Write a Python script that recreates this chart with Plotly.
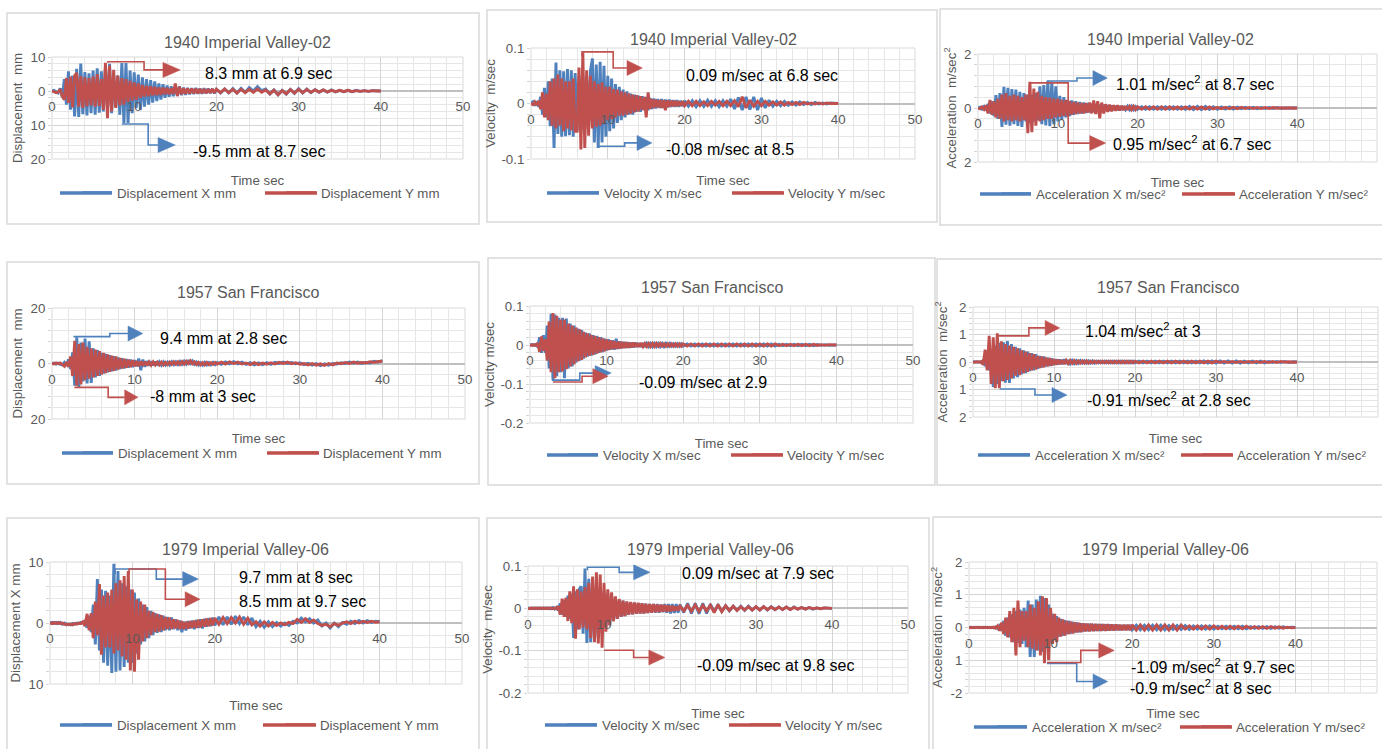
import plotly.graph_objects as go

W, H = 1382, 749
BLUE, RED = "#4F81BD", "#C0504D"
TXT = "#595959"
FONT = "Liberation Sans, Arial, sans-serif"
GRID_MAJOR, GRID_MINOR = "#d4d4d4", "#e6e6e6"

# ---------------- data ----------------
# time axis in seconds: 0-20 s every 0.25 s, 20.5-40 s every 0.5 s
time_s = [i * 0.25 for i in range(81)] + [20.5 + i * 0.5 for i in range(40)]
x_tick_vals = [0, 10, 20, 30, 40, 50]

# 1940 Imperial Valley-02
iv02_disp_x = [
    0, 0.2, -0.3, -0.6, 0.8, -1.8, 3.5, -4.0, 5.8, -5.5, 4.5, -7.5, 6.5, -7.6, 8.1, -6.8,
    5.6, -7.2, 5.2, -6.5, 6.0, -7.0, 6.7, -6.4, 5.8, -6.0, 7.0, -5.5, 8.0, -6.5, 5.0, -4.5,
    4.5, -7.0, 8.2, -9.5, 8.2, -9.4, 6.0, -6.5, 5.5, -5.0, 4.8, -5.6, 4.0, -4.6, 3.5, -4.0,
    3.2, -3.4, 2.8, -3.0, 2.2, -2.5, 2.0, -2.0, 1.6, -1.7, 1.4, -1.5, 1.2, -1.3, 1.4, -1.2,
    1.0, -1.1, 0.9, -1.0, 0.8, -0.9, 0.9, -0.8, 0.7, -0.8, 0.8, -0.7, 0.7, -0.6, 0.6, -0.7,
    0.5,
    -0.6, 0.6, -0.5, 0.7, -0.6, 0.8, -0.4, 1.0, 0.0, 1.3, 0.1,
    0.6, -0.9, 0.3, -1.1, 0.2, -0.9, 0.5, -0.7, 0.7, -0.6, 0.6, -0.5,
    0.4, -0.4, 0.3, -0.3, 0.3, -0.3, 0.2, -0.2, 0.2, -0.2, 0.2, -0.1, 0.1, -0.1, 0.1, 0.0, 0.0,
]
iv02_disp_y = [
    0, -0.2, -0.5, -0.3, 0.5, -1.5, -2.6, 3.8, -3.5, 4.2, -4.8, 4.5, 5.3, -4.6, 4.4, -5.0,
    4.0, -4.5, 3.8, -4.2, 4.2, -4.6, 5.0, -4.4, 3.5, -5.5, 8.3, -8.0, 7.5, -6.0, 6.2, -5.0,
    4.5, -4.2, 3.8, -4.0, 3.5, -3.2, 3.0, -2.8, 2.5, -2.6, 2.2, -2.0, 1.8, -1.6, 1.5, -1.5,
    1.4, -1.3, 1.2, -1.2, 1.0, -1.1, 1.0, -0.9, 0.9, -1.0, 0.8, -0.9, 2.2, -1.5, 1.2, -1.0,
    0.8, -0.8, 0.7, -0.7, 0.7, -0.6, 0.6, -0.7, 0.6, -0.6, 0.5, -0.6, 0.5, -0.5, 0.6, -0.5,
    0.5,
    -0.5, 0.6, -0.5, 0.5, -0.6, 0.5, -0.5, 0.5, -0.4, 0.6, -0.4,
    0.3, -0.8, 0.2, -1.1, 0.1, -0.8, 0.4, -0.6, 0.5, -0.5, 0.4, -0.4,
    0.3, -0.3, 0.3, -0.3, 0.2, -0.2, 0.2, -0.2, 0.2, -0.2, 0.1, -0.1, 0.1, -0.1, 0.1, 0.0, 0.0,
]
iv02_vel_x = [
    0, 0.003, -0.004, 0.004, -0.006, 0.012, -0.02, 0.028, -0.025, 0.04, -0.041, 0.045,
    -0.08, 0.074, -0.055, 0.06, -0.06, 0.058, -0.059, 0.062, -0.057, 0.06, -0.06, 0.055,
    -0.05, 0.048, -0.05, 0.05, -0.045, 0.05, -0.04, 0.06, 0.081, -0.07, 0.07, -0.08,
    0.075, -0.07, 0.068, -0.06, 0.05, -0.05, 0.045, -0.045, 0.035, -0.035, 0.03, -0.03,
    0.025, -0.025, 0.022, -0.02, 0.018, -0.02, 0.016, -0.015, 0.014, -0.015, 0.013, -0.012,
    0.012, -0.012, 0.01, -0.01, 0.009, -0.009, 0.008, -0.008, 0.008, -0.008, 0.007, -0.007,
    0.007, -0.006, 0.006, -0.006, 0.006, -0.006, 0.005, -0.005,
    0.005,
    -0.005, 0.005, -0.006, 0.005, -0.005, 0.006, -0.005, 0.005, -0.006, 0.005, -0.005,
    0.008, -0.01, 0.011, -0.012, 0.012, -0.011, 0.012, -0.012, 0.01, -0.008, 0.006,
    -0.005, 0.004, -0.004, 0.004, -0.003, 0.003, -0.003, 0.003, -0.002, 0.002, -0.002, 0.002,
    -0.001, 0.001, -0.001, 0.001, 0.0, 0.0,
]
iv02_vel_y = [
    0, -0.002, 0.003, -0.003, 0.005, -0.01, 0.02, -0.025, 0.018, -0.03, 0.04, -0.04,
    0.045, -0.045, 0.052, -0.04, 0.045, -0.05, 0.04, -0.045, 0.04, -0.048, 0.045, -0.05,
    -0.05, 0.065, -0.083, 0.092, -0.08, 0.06, -0.058, 0.05, -0.045, 0.04, -0.042, 0.035,
    -0.04, 0.038, -0.035, 0.03, -0.03, 0.03, -0.028, 0.026, -0.025, 0.025, -0.022, 0.022,
    -0.022, 0.02, -0.02, 0.018, -0.018, 0.016, -0.016, 0.015, -0.014, 0.013, -0.012, 0.012,
    -0.025, 0.02, -0.01, 0.008, -0.008, 0.007, -0.007, 0.006, -0.008, 0.006, -0.012, 0.006,
    -0.006, 0.005, -0.005, 0.005, -0.005, 0.004, -0.004, 0.004,
    -0.004,
    0.004, -0.004, 0.004, -0.004, 0.003, -0.004, 0.004, -0.003, 0.004, -0.004, 0.004, -0.004, 0.005,
    -0.006, 0.012, -0.008, 0.006,
    -0.005, 0.004, -0.004, 0.004, -0.003, 0.003, -0.003, 0.003, -0.003, 0.002, -0.002, 0.002,
    -0.002, 0.002, -0.001, 0.001, -0.001, 0.001, -0.001, 0.001, 0.0, 0.0, 0.0,
]
iv02_acc_x = [
    0, 0.03, -0.04, 0.05, -0.08, 0.15, -0.2, 0.25, -0.3, 0.48, -0.4, 0.55,
    -0.7, 0.78, -0.62, 0.75, -0.65, 0.7, -0.6, 0.68, -0.66, 0.6, -0.7, 0.55,
    -0.5, 0.5, -0.55, 0.5, -0.5, 0.55, -0.45, 0.8, -0.6, 0.85, -0.65, 1.01,
    -0.67, 0.97, -0.6, 0.8, -0.5, 0.45, -0.42, 0.4, -0.35, 0.3, -0.3, 0.28,
    -0.25, 0.25, -0.22, 0.22, -0.2, 0.2, -0.18, 0.18, -0.16, 0.15, -0.15, 0.14,
    -0.13, 0.12, -0.12, 0.12, -0.1, 0.1, -0.1, 0.09, -0.08, 0.08, -0.08, 0.07,
    -0.07, 0.07, -0.06, 0.06, -0.06, 0.06, -0.06, 0.05,
    -0.05,
    0.05, -0.05, 0.05, -0.05, 0.05, -0.05, 0.05, -0.05, 0.05, -0.05, 0.05, -0.05,
    0.06, -0.06, 0.06, -0.06, 0.06, -0.05, 0.05, -0.05, 0.04, -0.04, 0.04, -0.04,
    0.03, -0.03, 0.03, -0.03, 0.03, -0.03, 0.02, -0.02, 0.02, -0.02, 0.02, -0.02,
    0.01, -0.01, 0.01, 0.0,
]
iv02_acc_y = [
    0, -0.03, 0.04, -0.05, 0.1, -0.2, 0.3, -0.25, 0.25, -0.35, 0.35, -0.4,
    0.5, -0.5, 0.55, -0.45, 0.45, -0.5, 0.5, -0.45, 0.45, -0.5, 0.4, -0.45,
    0.5, -0.93, 0.97, -0.9, 0.72, -0.65, 0.6, -0.5, 0.45, -0.45, 0.4, -0.4,
    0.38, -0.4, 0.35, -0.35, 0.35, -0.33, 0.3, -0.3, 0.3, -0.32, 0.25, -0.25,
    0.22, -0.22, 0.2, -0.2, 0.18, -0.2, 0.18, -0.17, 0.2, -0.2, 0.28, -0.22,
    0.25, -0.38, 0.2, -0.2, 0.14, -0.14, 0.12, -0.12, 0.1, -0.1, 0.1, -0.09,
    0.08, -0.08, 0.07, -0.07, 0.06, -0.06, 0.06, -0.06,
    0.05,
    -0.05, 0.05, -0.05, 0.05, -0.05, 0.05, -0.05, 0.05, -0.04, 0.04, -0.04, 0.04,
    -0.04, 0.04, -0.04, 0.04, -0.04, 0.04, -0.03, 0.03, -0.03, 0.03, -0.03, 0.03,
    -0.03, 0.03, -0.02, 0.02, -0.02, 0.02, -0.02, 0.02, -0.02, 0.02, -0.01, 0.01,
    -0.01, 0.01, -0.01, 0.0,
]

# 1957 San Francisco
sf_disp_x = [
    0, 0.2, -0.2, 0.1, -0.3, -0.5, 0.4, -0.8, 1.5, -2.0, 4.0, -8.0, 9.4, -8.6, 7.5, -6.5,
    9.0, -7.2, 8.0, -7.0, 5.5, -5.0, 4.8, -4.5, 3.8, -3.6, 3.5, -3.2, 3.0, -2.8, 2.6, -2.5,
    2.2, -2.0, 1.9, -1.8, 1.6, -1.5, 1.4, -1.3, 1.2, -1.0, 1.8, -2.4, 1.4, -1.2, 0.9, -0.8,
    0.8, -0.7, 0.7, -0.7, 0.6, -0.6, 0.6, -0.5, 0.5, -0.5, 0.6, -0.4, 0.6, -0.4, 0.7, -0.3,
    0.8, -0.2, 1.2, 0.0, 0.9, -0.3, 0.5, -0.5, 0.3, -0.6, 0.4, -0.5, 0.3, -0.5, 0.4, -0.4,
    0.4,
    -0.3, 0.6, -0.1, 0.7, -0.1, 0.5, -0.3, 0.3, -0.5, 0.2, -0.4, 0.3, -0.3, 0.4,
    0.0, 0.5, 0.0, 0.4, -0.1, 0.3, -0.4, 0.1, -0.6, 0.0, -0.8, -0.1, -0.6, 0.0,
    -0.2, 0.3, 0.0, 0.5, 0.1, 0.5, 0.0, 0.4, 0.2, 0.8, 0.5, 1.0,
]
sf_disp_y = [
    0, -0.2, 0.2, -0.1, 0.2, -0.6, -1.0, 0.5, -1.2, 2.5, -4.5, 8.2, -8.0, 7.0, -7.5, 7.5,
    -6.0, 6.0, -5.5, 5.5, -5.0, 5.0, -4.5, 4.5, -4.0, 3.8, -3.5, 3.3, -3.0, 2.8, -2.6, 2.5,
    -2.2, 2.0, -1.8, 1.7, -1.5, 1.4, -1.3, 1.2, -1.0, 0.9, -1.0, 0.8, -0.8, 0.7, -0.7, 0.6,
    -0.6, 0.6, -0.5, 0.5, -0.5, 0.5, -0.5, 0.4, -0.4, 0.5, -0.3, 0.6, -0.3, 0.6, -0.3, 0.7,
    -0.2, 0.8, 0.0, 1.0, -0.1, 0.6, -0.4, 0.4, -0.5, 0.3, -0.5, 0.4, -0.4, 0.3, -0.3, 0.4,
    -0.2,
    0.5, -0.2, 0.6, 0.0, 0.5, -0.2, 0.2, -0.4, 0.3, -0.4, 0.2, -0.3, 0.3, -0.2,
    0.4, 0.0, 0.5, -0.1, 0.3, -0.3, 0.0, -0.5, 0.0, -0.6, -0.1, -0.7, 0.0, -0.5,
    0.2, -0.1, 0.4, 0.0, 0.5, 0.1, 0.4, 0.2, 0.6, 0.4, 0.7, 0.8,
]
sf_vel_x = [
    0, 0.001, -0.001, 0.001, -0.005, 0.02, -0.02, 0.025, -0.02, 0.05, -0.06, 0.08,
    -0.09, 0.078, -0.08, 0.07, -0.07, 0.07, -0.085, 0.068, -0.06, 0.055, -0.055, 0.05,
    -0.045, 0.042, -0.04, 0.038, -0.035, 0.032, -0.03, 0.03, -0.027, 0.025, -0.024, 0.023,
    -0.02, 0.02, -0.018, 0.016, -0.014, 0.015, -0.012, 0.012, -0.012, 0.016, -0.01, 0.009,
    -0.008, 0.008, -0.007, 0.007, -0.007, 0.006, -0.006, 0.006, -0.005, 0.005, -0.005, 0.005,
    -0.005, 0.004, -0.004, 0.004, -0.004, 0.004, -0.004, 0.004, -0.004, 0.004, -0.004, 0.004,
    -0.003, 0.004, -0.003, 0.003, -0.003, 0.003, -0.003, 0.003,
    -0.003,
    0.003, -0.003, 0.003, -0.003, 0.003, -0.003, 0.003, -0.003, 0.003, -0.003, 0.003, -0.003,
    0.003, -0.003, 0.003, -0.003, 0.003, -0.003, 0.003, -0.003, 0.003, -0.003, 0.003, -0.003,
    0.002, -0.002, 0.002, -0.002, 0.002, -0.002, 0.002, -0.002, 0.002, -0.002,
    0.001, -0.001, 0.001, -0.001, 0.0, 0.0,
]
sf_vel_y = [
    0, -0.001, 0.001, -0.001, 0.005, -0.018, 0.022, -0.015, 0.015, -0.04, 0.06, -0.07,
    0.082, -0.085, 0.075, -0.07, 0.065, -0.068, 0.065, -0.062, 0.055, -0.055, 0.05, -0.05,
    0.045, -0.042, 0.04, -0.038, 0.034, -0.032, 0.03, -0.028, 0.026, -0.025, 0.023, -0.022,
    0.02, -0.019, 0.017, -0.016, 0.014, -0.013, 0.012, -0.011, 0.01, -0.01, 0.009, -0.009,
    0.008, -0.008, 0.007, -0.007, 0.006, -0.006, 0.006, -0.005, 0.005, -0.005, 0.005, -0.004,
    0.004, -0.004, 0.004, -0.004, 0.004, -0.004, 0.004, -0.003, 0.004, -0.003, 0.003, -0.003,
    0.003, -0.003, 0.003, -0.003, 0.003, -0.003, 0.003, -0.003,
    0.003,
    -0.003, 0.003, -0.003, 0.003, -0.003, 0.003, -0.003, 0.003, -0.003, 0.003, -0.003, 0.003,
    -0.003, 0.003, -0.003, 0.003, -0.003, 0.003, -0.003, 0.003, -0.003, 0.003, -0.003, 0.003,
    -0.002, 0.002, -0.002, 0.002, -0.002, 0.002, -0.002, 0.002, -0.002, 0.002,
    -0.001, 0.001, -0.001, 0.001, 0.0, 0.0,
]
sf_acc_x = [
    0, 0.01, -0.01, 0.01, -0.02, 0.05, -0.15, 0.25, -0.3, 0.4, -0.91, 0.6,
    -0.8, 0.7, -0.7, 0.72, -0.75, 0.76, -0.76, 0.65, -0.6, 0.55, -0.55, 0.5,
    -0.45, 0.42, -0.4, 0.38, -0.33, 0.32, -0.3, 0.28, -0.25, 0.22, -0.2, 0.2,
    -0.16, 0.15, -0.14, 0.13, -0.1, 0.1, -0.09, 0.09, -0.08, 0.1, -0.07, 0.07,
    -0.06, 0.06, -0.05, 0.05, -0.05, 0.05, -0.04, 0.04, -0.04, 0.04, -0.04, 0.04,
    -0.04, 0.03, -0.03, 0.03, -0.03, 0.03, -0.03, 0.03, -0.03, 0.03, -0.03, 0.03,
    -0.03, 0.03, -0.03, 0.03, -0.03, 0.03, -0.03, 0.03,
    -0.03,
    0.03, -0.03, 0.03, -0.03, 0.03, -0.03, 0.03, -0.03, 0.03, -0.03, 0.03, -0.03,
    0.03, -0.03, 0.03, -0.03, 0.04, -0.04, 0.04, -0.04, 0.04, -0.04, 0.04, -0.04,
    0.04, -0.04, 0.03, -0.03, 0.03, -0.03, 0.03, -0.03, 0.02, -0.02, 0.02, -0.02,
    0.02, -0.02, 0.01, 0.0,
]
sf_acc_y = [
    0, -0.01, 0.01, -0.01, 0.02, -0.1, 0.45, -0.3, 0.95, -0.8, 0.9, -0.95,
    1.04, -0.95, 0.75, -0.7, 0.65, -0.65, 0.6, -0.6, 0.55, -0.5, 0.5, -0.48,
    0.42, -0.4, 0.38, -0.36, 0.32, -0.3, 0.28, -0.27, 0.22, -0.22, 0.2, -0.19,
    0.16, -0.15, 0.14, -0.13, 0.1, -0.1, 0.09, -0.08, 0.07, -0.07, 0.06, -0.06,
    0.05, -0.05, 0.05, -0.05, 0.04, -0.04, 0.04, -0.04, 0.04, -0.04, 0.03, -0.03,
    0.03, -0.03, 0.03, -0.03, 0.03, -0.03, 0.03, -0.03, 0.03, -0.03, 0.03, -0.03,
    0.03, -0.03, 0.03, -0.03, 0.03, -0.03, 0.03, -0.03,
    0.03,
    -0.03, 0.03, -0.03, 0.03, -0.03, 0.03, -0.03, 0.03, -0.03, 0.03, -0.03, 0.03,
    -0.03, 0.03, -0.03, 0.03, -0.03, 0.03, -0.03, 0.03, -0.02, 0.02, -0.02, 0.02,
    -0.02, 0.02, -0.02, 0.02, -0.02, 0.02, -0.02, 0.02, -0.02, 0.02, -0.02, 0.02,
    -0.01, 0.01, -0.01, 0.0,
]

# 1979 Imperial Valley-06
iv06_disp_x = [
    0, 0.1, -0.1, 0.1, -0.1, 0.1, -0.2, 0.0, -0.3, -0.2, -0.3, -0.1, -0.2, 0.0, -0.1, 0.1,
    0.0, 0.3, -0.8, 1.2, -1.5, 3.0, -3.5, 7.2, -4.5, 5.5, -6.5, 5.3, -7.0, 4.5, -8.2, 9.7,
    -8.0, 8.5, -7.8, 6.5, -7.2, 6.0, -6.5, 5.5, -6.5, 5.0, -5.0, 4.0, -3.5, 3.0, -3.0, 2.6,
    -2.5, 2.0, -2.0, 1.6, -1.6, 1.4, -1.5, 1.2, -1.2, 1.0, -1.2, 0.9, -1.0, 0.6, -1.2, 0.4,
    -1.5, 0.2, -1.2, 0.3, -0.9, 0.4, -1.0, 0.5, -0.8, 0.6, -0.9, 0.7, -0.6, 0.8, -0.5, 0.9,
    -0.4,
    1.0, -0.3, 1.0, -0.2, 1.1, -0.1, 1.0, -0.3, 0.8,
    -0.6, 0.3, -0.7, 0.2, -0.6, 0.1, -0.5, 0.0, -0.4, 0.3,
    0.0, 0.8, 0.2, 0.7, 0.0, 0.5, -0.5, 0.0, -0.8, 0.0, -0.6, 0.1,
    -0.2, 0.3, -0.1, 0.4, 0.0, 0.4, 0.1, 0.3, 0.2,
]
iv06_disp_y = [
    0, -0.1, 0.1, -0.1, 0.1, -0.1, 0.0, -0.2, -0.2, -0.3, -0.2, -0.3, -0.1, -0.2, 0.0, -0.1,
    0.2, -0.5, 1.5, -1.2, 1.6, -2.5, 3.5, -2.0, 6.4, -5.2, 4.5, -4.0, 5.0, -4.0, 5.5, -5.0,
    6.5, -4.5, 7.0, -5.5, 7.7, -6.0, 8.5, -7.8, 5.5, -8.0, 3.9, -6.0, 3.5, -3.0, 3.0, -2.5,
    2.0, -2.0, 1.8, -1.5, 1.5, -1.4, 1.3, -1.2, 1.0, -1.0, 0.9, -1.0, 0.6, -0.9, 0.5, -1.0,
    0.3, -1.0, 0.2, -0.9, 0.3, -0.8, 0.4, -0.8, 0.5, -0.7, 0.6, -0.6, 0.7, -0.5, 0.8, -0.4,
    0.8,
    -0.2, 0.9, -0.1, 0.9, 0.0, 1.0, -0.2, 0.8, -0.3,
    0.2, -0.5, 0.2, -0.5, 0.1, -0.4, 0.0, -0.3, 0.1, -0.1,
    0.6, 0.1, 0.7, 0.1, 0.5, -0.1, -0.4, -0.2, -0.6, -0.1, -0.4, 0.0,
    0.2, -0.1, 0.3, 0.0, 0.3, 0.1, 0.3, 0.1, 0.2,
]
iv06_vel_x = [
    0, 0.001, -0.001, 0.001, -0.001, 0.001, -0.001, 0.001, -0.001, 0.001, -0.001, 0.001,
    -0.001, 0.002, -0.002, 0.002, -0.005, 0.012, -0.015, 0.02, -0.02, 0.03, -0.025, 0.035,
    -0.07, 0.04, -0.05, 0.045, 0.052, -0.06, 0.094, -0.082, 0.07, -0.08, 0.06, -0.075,
    0.055, -0.07, 0.05, -0.06, 0.04, -0.045, 0.035, -0.04, 0.03, -0.03, 0.025, -0.025,
    0.02, -0.02, 0.018, -0.018, 0.015, -0.015, 0.014, -0.014, 0.013, -0.013, 0.012, -0.012,
    0.012, -0.012, 0.011, -0.011, 0.01, -0.01, 0.01, -0.01, 0.01, -0.01, 0.009, -0.009,
    0.01, -0.01, 0.01, -0.012, 0.01, -0.011, 0.01, -0.01,
    0.009,
    -0.01, 0.012, -0.012, 0.012, -0.013, 0.012, -0.012, 0.01,
    -0.008, 0.007, -0.007, 0.006, -0.006, 0.005, -0.005, 0.005,
    -0.005, 0.005, -0.004, 0.004, -0.004, 0.004, -0.004, 0.004, -0.003, 0.003, -0.003, 0.003,
    -0.003, 0.003, -0.002, 0.002, -0.002, 0.002, -0.002, 0.001, -0.001, 0.001, 0.0, 0.0,
]
iv06_vel_y = [
    0, -0.001, 0.001, -0.001, 0.001, -0.001, 0.001, -0.001, 0.001, -0.001, 0.001, -0.001,
    0.001, -0.001, 0.001, -0.001, 0.005, -0.015, 0.023, -0.02, 0.025, -0.03, 0.04, -0.035,
    0.052, -0.072, 0.045, -0.05, 0.04, -0.045, 0.05, -0.05, 0.06, -0.07, 0.075, -0.08,
    0.085, -0.083, 0.08, -0.093, 0.06, -0.055, 0.045, -0.04, 0.038, -0.03, 0.028, -0.025,
    0.022, -0.02, 0.018, -0.018, 0.016, -0.015, 0.015, -0.014, 0.014, -0.013, 0.013, -0.012,
    0.012, -0.012, 0.011, -0.011, 0.01, -0.01, 0.01, -0.009, 0.009, -0.009, 0.009, -0.008,
    0.008, -0.008, 0.007, -0.007, 0.006, -0.006, 0.005, -0.005,
    0.005,
    -0.006, 0.007, -0.007, 0.008, -0.007, 0.007, -0.006, 0.007,
    -0.01, 0.009, -0.008, 0.006,
    -0.005, 0.005, -0.005, 0.004, -0.004, 0.004, -0.004, 0.004, -0.004, 0.004, -0.003, 0.003,
    -0.003, 0.003, -0.003, 0.003, -0.003, 0.002, -0.002, 0.002, -0.002, 0.002, -0.001, 0.001,
    -0.001, 0.001, 0.0, 0.0,
]
iv06_acc_x = [
    0, 0.01, -0.01, 0.01, 0, 0.01, -0.01, 0.01, 0, 0.01, -0.01, 0.01,
    -0.01, 0.02, -0.03, 0.05, -0.1, 0.2, -0.25, 0.3, -0.3, 0.4, -0.45, 0.5,
    -0.46, 0.55, -0.5, 0.6, -0.6, 0.82, -0.9, 0.7, -0.9, 0.85, -0.7, 0.97,
    -0.75, 0.9, -0.6, 0.7, -0.45, 0.42, -0.38, 0.35, -0.28, 0.26, -0.25, 0.22,
    -0.2, 0.2, -0.18, 0.17, -0.15, 0.15, -0.14, 0.13, -0.12, 0.12, -0.11, 0.11,
    -0.1, 0.1, -0.1, 0.1, -0.1, 0.1, -0.09, 0.09, -0.09, 0.09, -0.08, 0.08,
    -0.08, 0.08, -0.08, 0.07, -0.07, 0.07, -0.07, 0.07,
    -0.07,
    0.07, -0.07, 0.07, -0.07, 0.07, -0.07, 0.07, -0.07, 0.06, -0.06, 0.06, -0.06,
    0.06, -0.06, 0.05, -0.05, 0.05, -0.05, 0.05, -0.05, 0.04, -0.04, 0.04, -0.04,
    0.04, -0.04, 0.04, -0.04, 0.03, -0.03, 0.03, -0.03, 0.03, -0.03, 0.02, -0.02,
    0.02, -0.01, 0.01, 0.0,
]
iv06_acc_y = [
    0, -0.01, 0.01, -0.01, 0.01, -0.01, 0.01, -0.01, 0.01, -0.01, 0.01, -0.01,
    0.01, -0.02, 0.05, -0.1, 0.15, -0.2, 0.3, -0.3, 0.5, -0.45, 0.6, -0.85,
    0.82, -0.6, 0.5, -0.4, 0.5, -0.6, 0.7, -0.65, 0.6, -0.7, 0.8, -0.85,
    0.95, -1.09, 0.9, -1.0, 0.6, -0.5, 0.42, -0.45, 0.3, -0.28, 0.25, -0.25,
    0.2, -0.2, 0.18, -0.18, 0.16, -0.15, 0.14, -0.14, 0.13, -0.12, 0.12, -0.12,
    0.12, -0.11, 0.11, -0.1, 0.1, -0.1, 0.1, -0.1, 0.1, -0.09, 0.09, -0.09,
    0.09, -0.08, 0.08, -0.08, 0.08, -0.08, 0.08, -0.08,
    0.08,
    -0.08, 0.08, -0.08, 0.08, -0.08, 0.08, -0.08, 0.08, -0.08, 0.08, -0.08, 0.08,
    -0.05, 0.05, -0.05, 0.05, -0.05, 0.05, -0.05, 0.05, -0.04, 0.04, -0.04, 0.04,
    -0.04, 0.04, -0.04, 0.04, -0.03, 0.03, -0.03, 0.03, -0.03, 0.03, -0.02, 0.02,
    -0.02, 0.01, -0.01, 0.0,
]

# ---------------- panel layout (pixel geometry) ----------------
SUP2 = "m/sec<sup>2</sup>"
panels = [
    dict(title="1940 Imperial Valley-02", sx=iv02_disp_x, sy=iv02_disp_y,
         names=("Displacement X mm", "Displacement Y mm"), ylabel="Displacement\u00a0 mm",
         plot=(52, 463, 57, 159), yrange=(-20, 10), yminor=2,
         yticks=([-20, -10, 0, 10], ["20", "10", "0", "10"]),
         box=(7, 13, 479, 224), title_xy=(247, 42), xlab_y=180, ylab_stand=4,
         leg_y=193, leg_b=(60, 117), leg_r=(265, 322),
         callouts=[
             dict(c=BLUE, pts=[(8.6, -9.5), (8.6, -9.7), (11.7, -9.7), (11.7, -15.9), (12.9, -15.9)], tip=15.0,
                  text="-9.5 mm at 8.7 sec", at=(25.3, -17.9)),
             dict(c=RED, pts=[(6.8, 8.3), (6.8, 8.6), (11.2, 8.6), (11.2, 6.2), (13.5, 6.2)], tip=15.6,
                  text="8.3 mm at 6.9 sec", at=(26.3, 5.0)),
         ]),
    dict(title="1940 Imperial Valley-02", sx=iv02_vel_x, sy=iv02_vel_y,
         names=("Velocity X m/sec", "Velocity Y m/sec"), ylabel="Velocity\u00a0 m/sec",
         plot=(531, 915, 48, 159), yrange=(-0.1, 0.1), yminor=0.02,
         yticks=([-0.1, 0, 0.1], ["-0.1", "0", "0.1"]),
         box=(487, 10, 937, 222), title_xy=(713, 40), xlab_y=180, ylab_stand=2,
         leg_y=193, leg_b=(547, 604), leg_r=(732, 789),
         callouts=[
             dict(c=BLUE, pts=[(8.7, -0.077), (12.2, -0.077), (12.2, -0.071), (13.8, -0.071)], tip=15.75,
                  text="-0.08 m/sec at 8.5", at=(25.9, -0.082)),
             dict(c=RED, pts=[(6.65, 0.085), (6.65, 0.093), (10.7, 0.093), (10.7, 0.064), (12.5, 0.064)], tip=14.5,
                  text="0.09 m/sec at 6.8 sec", at=(30.1, 0.051)),
         ]),
    dict(title="1940 Imperial Valley-02", sx=iv02_acc_x, sy=iv02_acc_y,
         names=("Acceleration X m/sec²", "Acceleration Y m/sec²"), ylabel="Acceleration\u00a0 " + SUP2,
         plot=(978, 1377, 54, 162), yrange=(-2, 2), yminor=0.4,
         yticks=([-2, 0, 2], ["2", "0", "2"]),
         box=(940, 9, 1390, 225), title_xy=(1170, 40), xlab_y=182, ylab_stand=4,
         leg_y=194, leg_b=(980, 1036), leg_r=(1182, 1240),
         callouts=[
             dict(c=BLUE, pts=[(8.65, 1.0), (12.4, 1.0), (12.4, 1.11), (14.4, 1.11)], tip=16.2,
                  text="1.01 " + SUP2 + " at 8.7 sec", at=(27.2, 0.93)),
             dict(c=RED, pts=[(6.5, 0.93), (11.3, 0.93), (11.3, -1.3), (14.0, -1.3)], tip=16.0,
                  text="0.95 " + SUP2 + " at 6.7 sec", at=(26.8, -1.3)),
         ]),
    dict(title="1957 San Francisco", sx=sf_disp_x, sy=sf_disp_y,
         names=("Displacement X mm", "Displacement Y mm"), ylabel="Displacement\u00a0 mm",
         plot=(52, 465, 308, 419), yrange=(-20, 20), yminor=4,
         yticks=([-20, 0, 20], ["20", "0", "20"]),
         box=(7, 262, 479, 484), title_xy=(248, 292), xlab_y=438, ylab_stand=4,
         leg_y=453, leg_b=(62, 118), leg_r=(267, 324),
         callouts=[
             dict(c=BLUE, pts=[(2.7, 9.4), (2.7, 9.7), (7.0, 9.7), (7.0, 10.8), (9.2, 10.8)], tip=11.0,
                  text="9.4 mm at 2.8 sec", at=(20.8, 9.0)),
             dict(c=RED, pts=[(2.8, -8.3), (2.8, -8.6), (6.8, -8.6), (6.8, -12.2), (8.8, -12.2)], tip=10.4,
                  text="-8 mm at 3 sec", at=(18.3, -11.9)),
         ]),
    dict(title="1957 San Francisco", sx=sf_vel_x, sy=sf_vel_y,
         names=("Velocity X m/sec", "Velocity Y m/sec"), ylabel="Velocity m/sec",
         plot=(530, 913, 306, 423), yrange=(-0.2, 0.1), yminor=0.02,
         yticks=([-0.2, -0.1, 0, 0.1], ["-0.2", "-0.1", "0", "0.1"]),
         box=(488, 258, 935, 485), title_xy=(712, 288), xlab_y=443, ylab_stand=2,
         leg_y=455, leg_b=(547, 603), leg_r=(731, 788),
         callouts=[
             dict(c=BLUE, pts=[(2.87, -0.09), (6.5, -0.09), (6.5, -0.072), (8.5, -0.072)], tip=10.6,
                  text="", at=None),
             dict(c=RED, pts=[(3.0, -0.095), (6.8, -0.095), (6.8, -0.08), (8.2, -0.08)], tip=10.2,
                  text="-0.09 m/sec at 2.9", at=(22.6, -0.095)),
         ]),
    dict(title="1957 San Francisco", sx=sf_acc_x, sy=sf_acc_y,
         names=("Acceleration X m/sec²", "Acceleration Y m/sec²"), ylabel="Acceleration\u00a0 " + SUP2,
         plot=(973, 1378, 307, 417), yrange=(-2, 2), yminor=0.2,
         yticks=([-2, -1, 0, 1, 2], ["2", "1", "0", "1", "2"]),
         box=(937, 259, 1390, 485), title_xy=(1168, 288), xlab_y=438, ylab_stand=8,
         leg_y=455, leg_b=(978, 1035), leg_r=(1181, 1238),
         callouts=[
             dict(c=BLUE, pts=[(3.3, -0.98), (7.65, -0.98), (7.65, -1.2), (9.75, -1.2)], tip=11.6,
                  text="-0.91 " + SUP2 + " at 2.8 sec", at=(24.2, -1.35)),
             dict(c=RED, pts=[(3.1, 0.95), (6.9, 0.95), (6.9, 1.24), (8.9, 1.24)], tip=10.7,
                  text="1.04 " + SUP2 + " at 3", at=(21.0, 1.16)),
         ]),
    dict(title="1979 Imperial Valley-06", sx=iv06_disp_x, sy=iv06_disp_y,
         names=("Displacement X mm", "Displacement Y mm"), ylabel="Displacement X mm",
         plot=(50, 462, 562, 684), yrange=(-10, 10), yminor=2,
         yticks=([-10, 0, 10], ["10", "0", "10"]),
         box=(7, 518, 479, 756), title_xy=(245, 549), xlab_y=705, ylab_stand=4,
         leg_y=725, leg_b=(60, 117), leg_r=(263, 321),
         callouts=[
             dict(c=BLUE, pts=[(7.9, 8.0), (7.9, 8.85), (12.9, 8.85), (12.9, 7.2), (16.1, 7.2)], tip=18.0,
                  text="9.7 mm at 8 sec", at=(29.9, 7.5)),
             dict(c=RED, pts=[(9.6, 8.0), (9.6, 8.85), (14.0, 8.85), (14.0, 3.9), (16.4, 3.9)], tip=18.2,
                  text="8.5 mm at 9.7 sec", at=(30.6, 3.6)),
         ]),
    dict(title="1979 Imperial Valley-06", sx=iv06_vel_x, sy=iv06_vel_y,
         names=("Velocity X m/sec", "Velocity Y m/sec"), ylabel="Velocity\u00a0 m/sec",
         plot=(528, 908, 566, 693), yrange=(-0.2, 0.1), yminor=0.02,
         yticks=([-0.2, -0.1, 0, 0.1], ["-0.2", "-0.1", "0", "0.1"]),
         box=(487, 518, 929, 756), title_xy=(710, 549), xlab_y=713, ylab_stand=2,
         leg_y=725, leg_b=(545, 602), leg_r=(729, 786),
         callouts=[
             dict(c=BLUE, pts=[(7.8, 0.09), (7.8, 0.097), (12.0, 0.097), (12.0, 0.085), (13.9, 0.085)], tip=16.05,
                  text="0.09 m/sec at 7.9 sec", at=(30.3, 0.083)),
             dict(c=RED, pts=[(10.0, -0.099), (13.9, -0.099), (13.9, -0.116), (15.9, -0.116)], tip=18.0,
                  text="-0.09 m/sec at 9.8 sec", at=(32.5, -0.135)),
         ]),
    dict(title="1979 Imperial Valley-06", sx=iv06_acc_x, sy=iv06_acc_y,
         names=("Acceleration X m/sec²", "Acceleration Y m/sec²"), ylabel="Acceleration\u00a0 " + SUP2,
         plot=(969, 1377, 562, 693), yrange=(-2, 2), yminor=0.2,
         yticks=([-2, -1, 0, 1, 2], ["-2", "1", "0", "1", "2"]),
         box=(933, 517, 1390, 756), title_xy=(1165, 549), xlab_y=713, ylab_stand=4,
         leg_y=727, leg_b=(974, 1032), leg_r=(1180, 1237),
         callouts=[
             dict(c=BLUE, pts=[(9.55, -1.1), (13.2, -1.1), (13.2, -1.65), (15.2, -1.65)], tip=17.0,
                  text="-0.9 " + SUP2 + " at 8 sec", at=(28.4, -1.83)),
             dict(c=RED, pts=[(9.55, -1.07), (13.7, -1.07), (13.7, -0.7), (15.9, -0.7)], tip=17.8,
                  text="-1.09 " + SUP2 + " at 9.7 sec", at=(29.9, -1.19)),
         ]),
]

for p in panels:
    assert len(p["sx"]) == len(time_s) and len(p["sy"]) == len(time_s), (p["title"], p["names"], len(p["sx"]), len(p["sy"]))


def PX(px):
    return px / W


def PY(py):
    return 1 - py / H


def to_px(p, t, v):
    x0, x1, yt, yb = p["plot"]
    lo, hi = p["yrange"]
    return x0 + (t / 50.0) * (x1 - x0), yb - (v - lo) / (hi - lo) * (yb - yt)


fig = go.Figure()
shapes, annotations = [], []
layout = {}
TICKFONT = dict(family=FONT, size=13.3, color=TXT)
LINE_W = 2.9
LEG_TEXT_GAP = 40   # plotly: text starts 40 px after the legend item origin


def txt(x, y, text, size, color=TXT, **kw):
    d = dict(x=PX(x), y=PY(y), xref="paper", yref="paper", text=text, showarrow=False,
             font=dict(family=FONT, size=size, color=color), xanchor="center", yanchor="middle")
    d.update(kw)
    annotations.append(d)


for i, p in enumerate(panels, start=1):
    sfx = "" if i == 1 else str(i)
    leg = "legend" + sfx
    x0, x1, yt, yb = p["plot"]
    lo, hi = p["yrange"]
    zero_py = to_px(p, 0, 0)[1]

    for series, color, name in ((p["sx"], BLUE, p["names"][0]), (p["sy"], RED, p["names"][1])):
        fig.add_trace(go.Scatter(x=time_s, y=series, mode="lines", name=name,
                                 line=dict(color=color, width=LINE_W), hoverinfo="skip",
                                 xaxis="x" + sfx, yaxis="y" + sfx, legend=leg, showlegend=True))

    # the time axis crosses at y = 0, like the original chart
    xstand = p["xlab_y"] - 7 - zero_py - 20
    layout["xaxis" + sfx] = dict(
        domain=[PX(x0), PX(x1)], range=[0, 50], anchor="free", position=PY(zero_py),
        tickmode="array", tickvals=x_tick_vals, ticktext=[str(v) for v in x_tick_vals],
        showgrid=True, gridcolor=GRID_MAJOR, gridwidth=1,
        minor=dict(tickmode="linear", tick0=0, dtick=2, showgrid=True, gridcolor=GRID_MINOR, gridwidth=1),
        showline=False, zeroline=False, ticks="", ticklabelstandoff=6,
        title=dict(text="Time sec", font=TICKFONT, standoff=xstand),
        tickfont=TICKFONT, fixedrange=True)
    layout["yaxis" + sfx] = dict(
        domain=[PY(yb), PY(yt)], range=[lo, hi], anchor="x" + sfx,
        tickmode="array", tickvals=p["yticks"][0], ticktext=p["yticks"][1],
        showgrid=True, gridcolor=GRID_MAJOR, gridwidth=1,
        minor=dict(tickmode="linear", tick0=0, dtick=p["yminor"], showgrid=True, gridcolor=GRID_MINOR,
                   gridwidth=1, ticks="outside", ticklen=3, tickcolor=GRID_MAJOR),
        ticks="outside", ticklen=3, tickcolor=GRID_MAJOR,
        zeroline=True, zerolinecolor="#bfbfbf", zerolinewidth=1.5, showline=False,
        title=dict(text=p["ylabel"], font=TICKFONT, standoff=p["ylab_stand"]),
        tickfont=TICKFONT, fixedrange=True)

    # legend of this chart, below its time-axis title
    blue_item = p["leg_b"][1] - LEG_TEXT_GAP
    red_item = p["leg_r"][1] - LEG_TEXT_GAP
    layout[leg] = dict(orientation="h", x=PX(blue_item), y=PY(p["leg_y"]), xanchor="left", yanchor="middle",
                       entrywidth=red_item - blue_item - LEG_TEXT_GAP - 6, entrywidthmode="pixels",
                       itemwidth=30, font=TICKFONT, bgcolor="rgba(0,0,0,0)", borderwidth=0,
                       itemclick=False, itemdoubleclick=False, traceorder="normal")
    # longer legend keys, as in the original
    for (lx0, tx0), color in ((p["leg_b"], BLUE), (p["leg_r"], RED)):
        shapes.append(dict(type="line", xref="paper", yref="paper", x0=PX(lx0), x1=PX(tx0 - 5),
                           y0=PY(p["leg_y"]), y1=PY(p["leg_y"]), line=dict(color=color, width=3.6)))

    # plot-area border and chart box
    shapes.append(dict(type="rect", xref="paper", yref="paper", x0=PX(x0), x1=PX(x1), y0=PY(yb), y1=PY(yt),
                       line=dict(color="#d9d9d9", width=1), layer="below"))
    bx0, by0, bx1, by1 = p["box"]
    shapes.append(dict(type="rect", xref="paper", yref="paper", x0=PX(bx0), x1=PX(bx1), y0=PY(by1), y1=PY(by0),
                       line=dict(color="#d9d9d9", width=1.5), layer="below"))

    # chart title
    txt(*p["title_xy"], p["title"], 16)

    # callouts (elbow connectors with arrow heads)
    for c in p["callouts"]:
        pix = [to_px(p, t, v) for t, v in c["pts"]]
        path = "M " + " L ".join(f"{PX(a):.5f},{PY(b):.5f}" for a, b in pix)
        shapes.append(dict(type="path", xref="paper", yref="paper", path=path,
                           line=dict(color=c["c"], width=1.6)))
        bx, by = pix[-1]
        tx = to_px(p, c["tip"], 0)[0]
        tri = (f"M {PX(bx):.5f},{PY(by - 7.5):.5f} L {PX(tx):.5f},{PY(by):.5f} "
               f"L {PX(bx):.5f},{PY(by + 7.5):.5f} Z")
        shapes.append(dict(type="path", xref="paper", yref="paper", path=tri,
                           line=dict(color=c["c"], width=0.5), fillcolor=c["c"]))
        if c["at"] is not None:
            ax, ay = to_px(p, *c["at"])
            txt(ax, ay, c["text"], 16, color="#000000")

fig.update_layout(
    width=W, height=H, autosize=False, margin=dict(l=0, r=0, t=0, b=0, pad=0, autoexpand=False),
    paper_bgcolor="white", plot_bgcolor="rgba(0,0,0,0)", showlegend=True,
    font=dict(family=FONT, color=TXT), shapes=shapes, annotations=annotations, **layout)

fig.write_html("out.html", config={"displayModeBar": False},
               post_script="document.body.style.margin='0';document.body.style.overflow='hidden';")
